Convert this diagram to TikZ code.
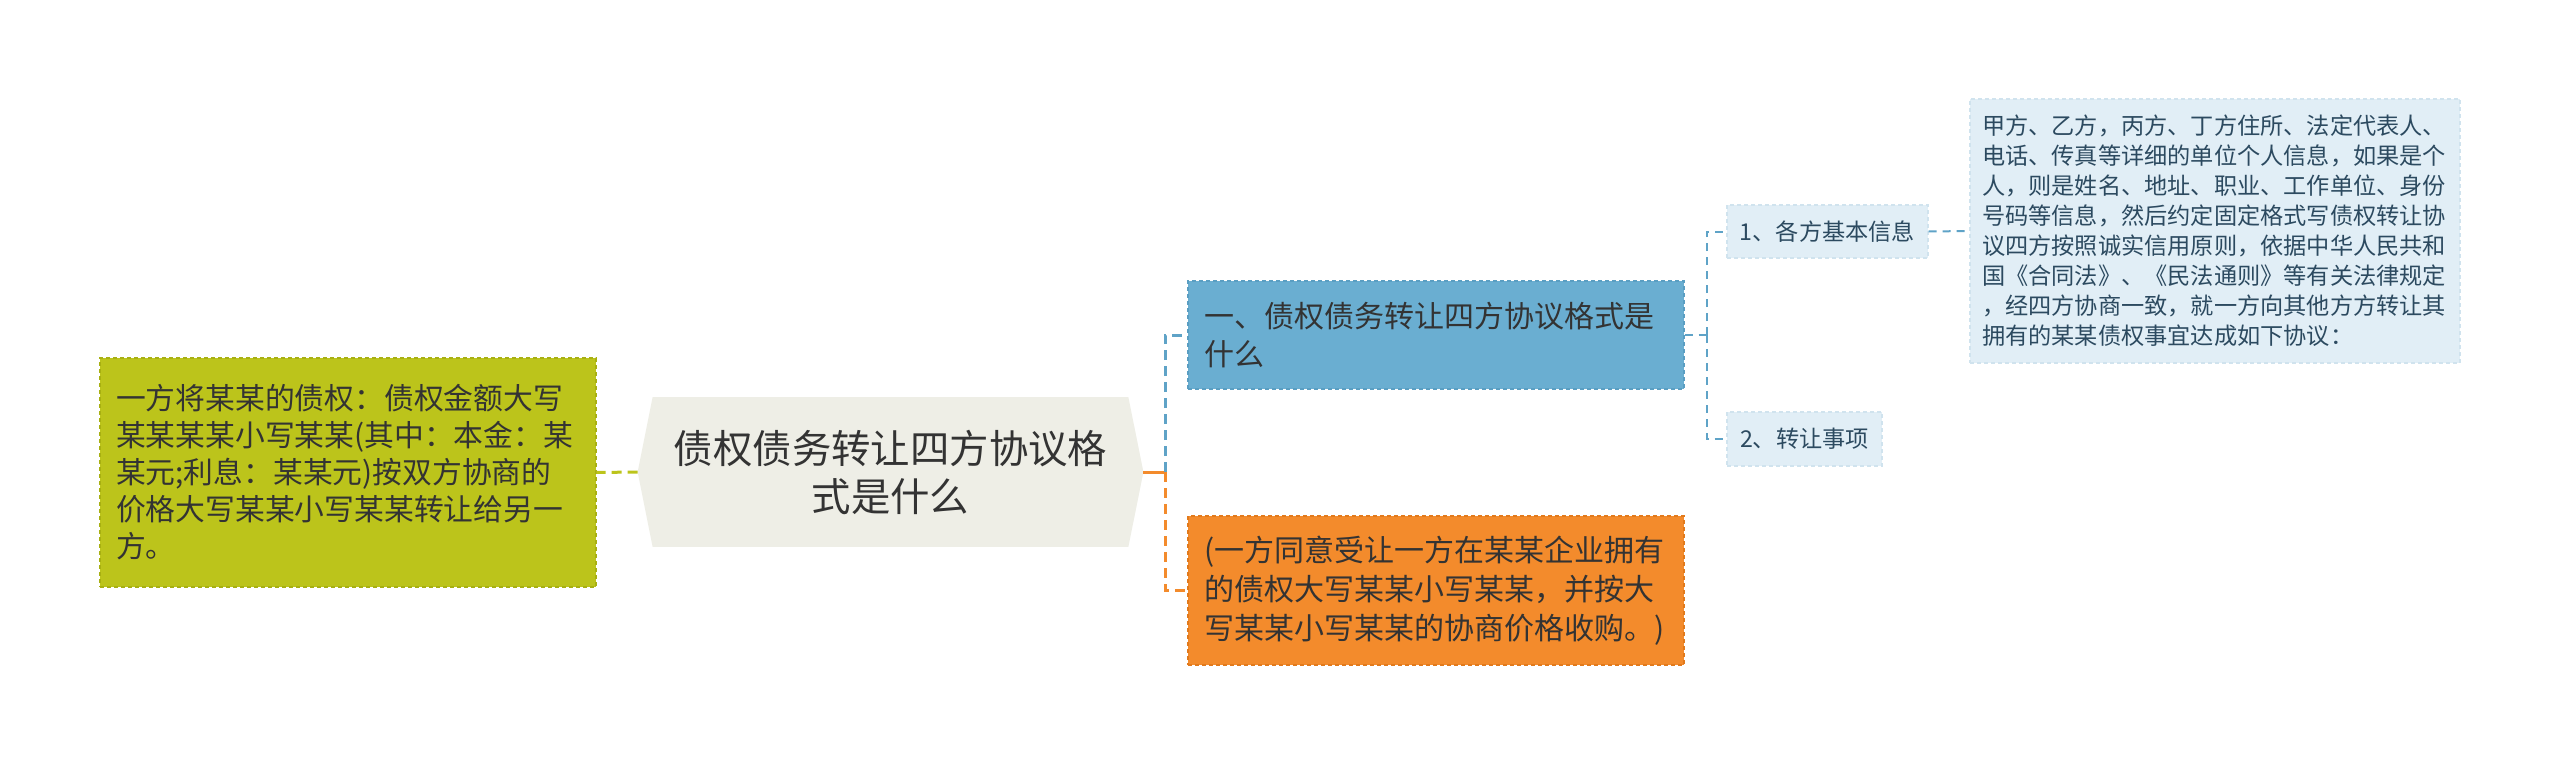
\documentclass[tikz,border=0pt]{standalone}
\usepackage{fontspec}
\setmainfont{Noto Sans CJK SC}
\usepackage{tikz}
\usetikzlibrary{positioning,calc,backgrounds}
\definecolor{LimeFill}{HTML}{BCC41B}
\definecolor{LimeLine}{HTML}{A8B012}
\definecolor{RootFill}{HTML}{EEEEE6}
\definecolor{SkyFill}{HTML}{6AAED1}
\definecolor{SkyLine}{HTML}{5A9EC2}
\definecolor{PaleFill}{HTML}{E1EEF6}
\definecolor{PaleLine}{HTML}{D0E3EE}
\definecolor{TanFill}{HTML}{F38B2C}
\definecolor{TanLine}{HTML}{E27A1C}
\definecolor{InkGrey}{HTML}{333333}
\definecolor{InkBlue}{HTML}{2C4A60}
\definecolor{LinkBlue}{HTML}{5FA3C7}
\tikzset{
  box/.style={draw,dash pattern=on 2pt off 1.5pt,line width=0.6pt,inner ysep=0pt,align=left,text=InkGrey},
  leaf/.style={box,fill=PaleFill,draw=PaleLine,text=InkBlue,font=\fontsize{11.6}{15}\selectfont},
  link/.style={line width=1.5pt,dash pattern=on 5pt off 3pt},
  twig/.style={line width=1pt,dash pattern=on 4pt off 3pt,LinkBlue},
}

\begin{document}
\begin{tikzpicture}[x=0.5pt,y=-0.5pt]
  \useasboundingbox (0,0) rectangle (2560,765);
  % centre topic
  \node[minimum width=252.5pt,minimum height=74.5pt,align=center,text=InkGrey,font=\fontsize{19.7}{24}\selectfont] (root) at (890.5,472) {债权债务转让四方协议格\\式是什么};
  \begin{scope}[on background layer]
    \fill[RootFill] (root.west) -- ($(root.north west)+(15,0)$) -- ($(root.north east)+(-15,0)$) -- (root.east)
      -- ($(root.south east)+(-15,0)$) -- ($(root.south west)+(15,0)$) -- cycle;
  \end{scope}

  % left
  \node[box,fill=LimeFill,draw=LimeLine,minimum width=248pt,minimum height=114.5pt,text width=232pt,inner xsep=8pt,font=\fontsize{14.9}{18.5}\selectfont] (lime) at (348,472.5)
    {一方将某某的债权：债权金额大写\\某某某某小写某某(其中：本金：某\\某元;利息：某某元)按双方协商的\\价格大写某某小写某某转让给另一\\方。};

  % right
  \node[box,fill=SkyFill,draw=SkyLine,minimum width=248pt,minimum height=54pt,text width=232pt,inner xsep=8pt,font=\fontsize{15}{19}\selectfont] (sky) at (1436,335)
    {一、债权债务转让四方协议格式是\\什么};
  \node[box,fill=TanFill,draw=TanLine,minimum width=248pt,minimum height=74.5pt,text width=232pt,inner xsep=8pt,font=\fontsize{15}{19.5}\selectfont] (tan) at (1436,590.5)
    {(一方同意受让一方在某某企业拥有\\的债权大写某某小写某某，并按大\\写某某小写某某的协商价格收购。)};

  \node[leaf,minimum width=100.5pt,minimum height=26.5pt,align=center] (info) at (1827.5,231.5) {1、各方基本信息};
  \node[leaf,minimum width=77.5pt,minimum height=27pt,align=center] (item) at (1804.5,439) {2、转让事项};
  \node[leaf,minimum width=245pt,minimum height=132pt,text width=233pt,inner xsep=6pt] (detail) at (2215,231)
    {甲方、乙方，丙方、丁方住所、法定代表人、\\电话、传真等详细的单位个人信息，如果是个\\人，则是姓名、地址、职业、工作单位、身份\\号码等信息，然后约定固定格式写债权转让协\\议四方按照诚实信用原则，依据中华人民共和\\国《合同法》、《民法通则》等有关法律规定\\，经四方协商一致，就一方向其他方方转让其\\拥有的某某债权事宜达成如下协议：};

  % connectors
  \coordinate[right=11pt of root] (fork);
  \coordinate[right=11pt of sky] (fork2);
  \draw[link,LimeFill] (root.west) -- (lime.east);
  \draw[line width=1.5pt,TanFill] (root.east) -- (fork);
  \draw[link,TanFill] (fork) |- (tan.west);
  \draw[link,LinkBlue] (fork) |- (sky.west);
  \draw[twig] (sky.east) -- (fork2);
  \draw[twig] (fork2) |- (info.west);
  \draw[twig] (fork2) |- (item.west);
  \draw[twig] (info.east) -- (detail.west);
\end{tikzpicture}
\end{document}
